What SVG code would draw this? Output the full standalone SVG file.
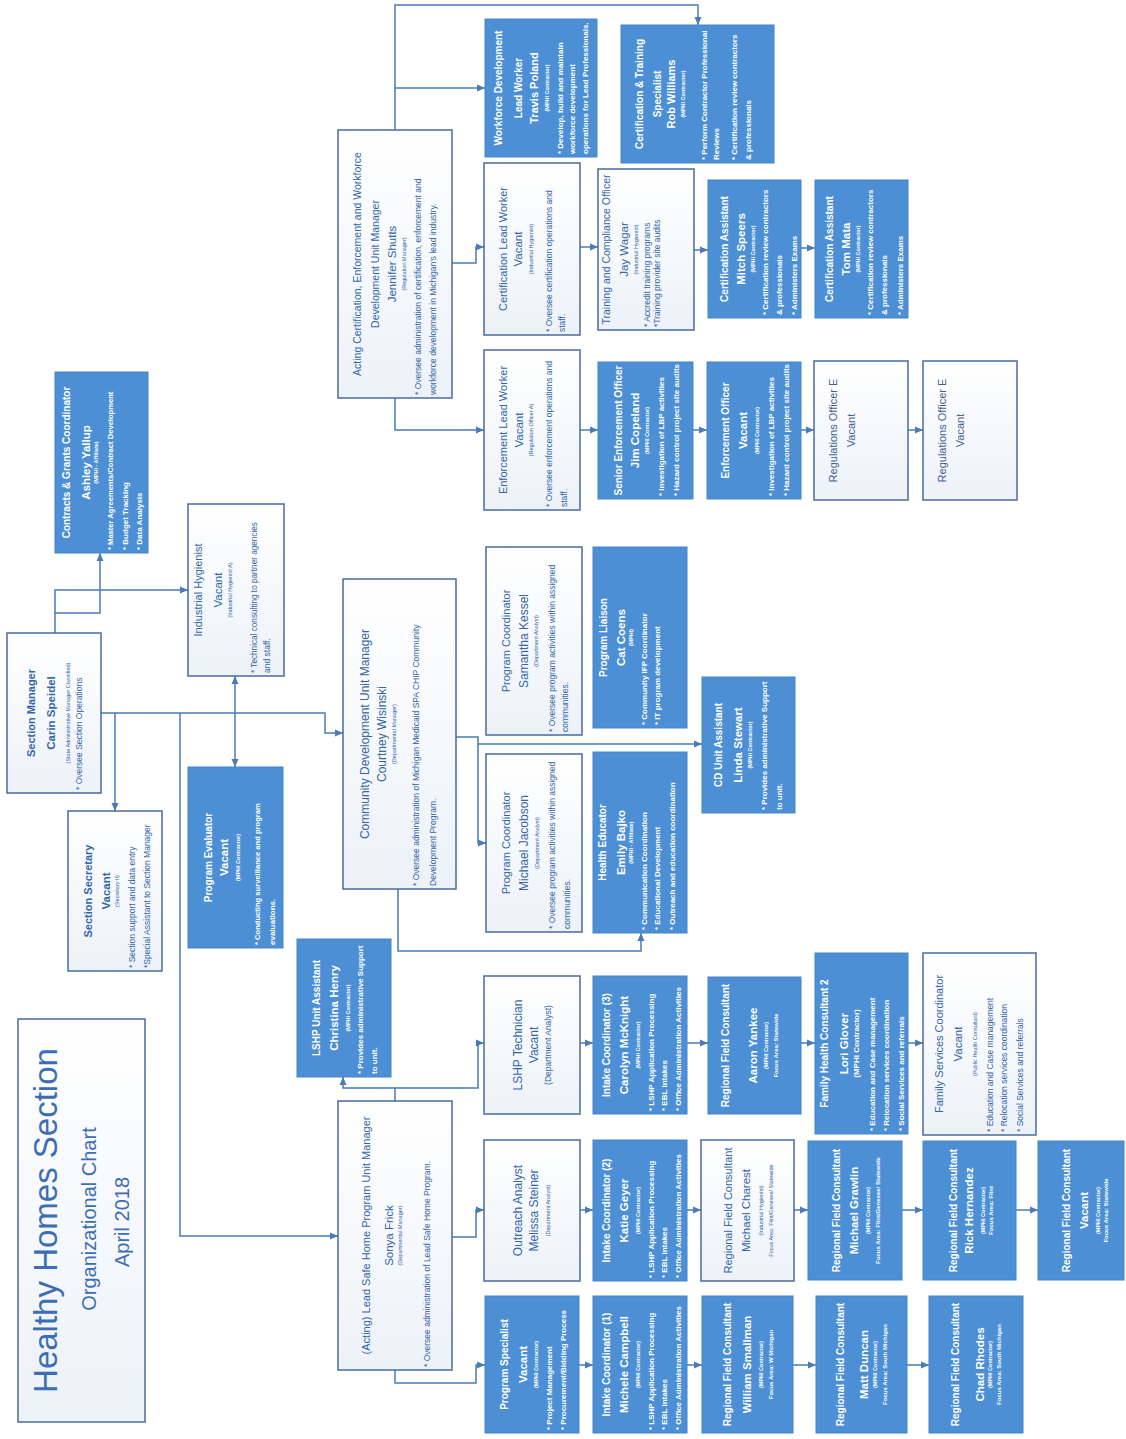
<svg xmlns="http://www.w3.org/2000/svg" width="1126" height="1439" viewBox="0 0 1126 1439">
<defs>
<linearGradient id="wg" x1="0" y1="0" x2="0" y2="1"><stop offset="0" stop-color="#ffffff"/><stop offset="1" stop-color="#edf2f9"/></linearGradient>
<marker id="ah" markerUnits="userSpaceOnUse" markerWidth="8" markerHeight="8" refX="8" refY="4" orient="auto"><path d="M0,0.5 L8,4 L0,7.5 z" fill="#4a7bb7"/></marker>
</defs>
<style>
text{font-family:"Liberation Sans",Arial,sans-serif}
.wb{fill:url(#wg);stroke:#4a6b9c;stroke-width:1.5}
.bb{fill:#4c8fd5;stroke:#4585cc;stroke-width:1}
.wt{font-size:11px;fill:#3366a8;text-anchor:middle}
.wn{font-size:11.5px;fill:#3366a8;text-anchor:middle}
.wc{font-size:5.5px;fill:#3366a8;text-anchor:middle}
.wl{font-size:8.5px;fill:#3366a8}
.bt{font-size:10px;font-weight:700;fill:#fff;text-anchor:middle}
.bn{font-size:11.5px;font-weight:700;fill:#fff;text-anchor:middle}
.bc{font-size:5.5px;font-weight:700;fill:#fff;text-anchor:middle}
.bl{font-size:8px;font-weight:700;fill:#fff}
.bf{font-size:6px;font-weight:700;fill:#fff;text-anchor:middle}
.rt{font-size:11px;fill:#44618e;text-anchor:middle}
.tt{font-size:33px;fill:#3d6db4;text-anchor:middle}
.ts{font-size:20px;fill:#3d6db4;text-anchor:middle}
.conn path{fill:none;stroke:#4a7bb7;stroke-width:1.5}
.conn path.a{marker-end:url(#ah)}
</style>
<rect width="1126" height="1439" fill="#ffffff"/>

<g id="connectors" class="conn">
<path class="a" d="M395,130 V5 H698 V25"/>
<path class="a" d="M395,88 H485"/>
<path class="a" d="M452,263 H476 V247 H484"/>
<path class="a" d="M580,247 H598"/>
<path class="a" d="M694,250 H708"/>
<path class="a" d="M801,248 H815"/>
<path class="a" d="M395,398 V430 H484"/>
<path class="a" d="M580,430 H598"/>
<path class="a" d="M693,430 H707"/>
<path class="a" d="M801,430 H814"/>
<path class="a" d="M908,430 H923"/>
<path class="a" d="M55,633 V590 H188"/>
<path class="a" d="M55,613 H100 V553"/>
<path class="a" d="M101,713 H325 V733 H343"/>
<path class="a" d="M115,713 V811"/>
<path class="a" d="M180,713 V1236 H338"/>
<path class="a" d="M235,713 V676"/>
<path class="a" d="M235,713 V767"/>
<path class="a" d="M456,737 H478 V843 H486"/>
<path class="a" d="M478,744 H702"/>
<path class="a" d="M398,889 V951 H641 V933"/>
<path class="a" d="M395,1101 V1088 H478 V1043 H484"/>
<path class="a" d="M395,1088 H343 V1077"/>
<path class="a" d="M580,1043 H593"/>
<path class="a" d="M687,1043 H708"/>
<path class="a" d="M801,1043 H815"/>
<path class="a" d="M908,1043 H923"/>
<path class="a" d="M452,1237 H476 V1210 H484"/>
<path class="a" d="M580,1210 H593"/>
<path class="a" d="M687,1210 H701"/>
<path class="a" d="M794,1210 H808"/>
<path class="a" d="M902,1210 H923"/>
<path class="a" d="M1016,1210 H1038"/>
<path class="a" d="M395,1370 V1383 H476 V1365 H485"/>
<path class="a" d="M579,1365 H593"/>
<path class="a" d="M687,1365 H702"/>
<path class="a" d="M793,1365 H816"/>
<path class="a" d="M907,1365 H929"/>
</g>

<g id="n-shutts"><rect class="wb" x="338" y="130" width="114" height="268"/>
<g transform="translate(338,398) rotate(-90)">
<text class="wt" x="134" y="23" style="font-size:10.5px">Acting Certification, Enforcement and Workforce</text>
<text class="wt" x="134" y="41" style="font-size:10.5px">Development Unit Manager</text>
<text class="wn" x="134" y="58">Jennifer Shutts</text>
<text class="wc" x="134" y="68">(Regulation Manager)</text>
<text class="wl" x="3" y="83">* Oversee administration of certification, enforcement and</text>
<text class="wl" x="3" y="98">workforce development in Michigan's lead industry.</text>
</g></g>

<g id="n-poland"><rect class="bb" x="485" y="19" width="112" height="138"/>
<g transform="translate(485,157) rotate(-90)">
<text class="bt" x="69" y="17">Workforce Development</text>
<text class="bt" x="69" y="37">Lead Worker</text>
<text class="bn" x="69" y="53" style="font-size:11px">Travis Poland</text>
<text class="bc" x="69" y="64">(MPHI Contractor)</text>
<text class="bl" x="3" y="78">* Develop, build and maintain</text>
<text class="bl" x="3" y="90">workforce development</text>
<text class="bl" x="3" y="103">operations for Lead Professionals.</text>
</g></g>

<g id="n-williams"><rect class="bb" x="621" y="25" width="153" height="138"/>
<g transform="translate(621,163) rotate(-90)">
<text class="bt" x="69" y="22">Certification &amp; Training</text>
<text class="bt" x="69" y="40">Specialist</text>
<text class="bn" x="69" y="54" style="font-size:11px">Rob Williams</text>
<text class="bc" x="69" y="64">(MPHI Contractor)</text>
<text class="bl" x="3" y="86">* Perform Contractor Professional</text>
<text class="bl" x="3" y="98">Reviews</text>
<text class="bl" x="3" y="116">* Certification review contractors</text>
<text class="bl" x="3" y="130">&amp; professionals</text>
</g></g>

<g id="n-certlead"><rect class="wb" x="484" y="163" width="96" height="172"/>
<g transform="translate(484,335) rotate(-90)">
<text class="wt" x="86" y="23">Certification Lead Worker</text>
<text class="wn" x="86" y="38">Vacant</text>
<text class="wc" x="86" y="49">(Industrial Hygienist)</text>
<text class="wl" x="3" y="68">* Oversee certification operations and</text>
<text class="wl" x="3" y="81">staff.</text>
</g></g>

<g id="n-wagar"><rect class="wb" x="598" y="169" width="96" height="161"/>
<g transform="translate(598,330) rotate(-90)">
<text class="wt" x="80.5" y="12" style="font-size:10.5px">Training and Compliance Officer</text>
<text class="wn" x="80.5" y="30">Jay Wagar</text>
<text class="wc" x="80.5" y="40">(Industrial Hygienist)</text>
<text class="wl" x="3" y="52">* Accredit training programs</text>
<text class="wl" x="3" y="62">*Training provider site audits</text>
</g></g>

<g id="n-speers"><rect class="bb" x="708" y="180" width="93" height="138"/>
<g transform="translate(708,318) rotate(-90)">
<text class="bt" x="69" y="20">Certification Assistant</text>
<text class="bn" x="69" y="37">Mitch Speers</text>
<text class="bc" x="69" y="47">(MPHI Contractor)</text>
<text class="bl" x="3" y="60">* Certification review contractors</text>
<text class="bl" x="3" y="74">&amp; professionals</text>
<text class="bl" x="3" y="89">* Administers Exams</text>
</g></g>

<g id="n-mata"><rect class="bb" x="815" y="180" width="93" height="138"/>
<g transform="translate(815,318) rotate(-90)">
<text class="bt" x="69" y="18">Certification Assistant</text>
<text class="bn" x="69" y="35">Tom Mata</text>
<text class="bc" x="69" y="45">(MPHI Contractor)</text>
<text class="bl" x="3" y="58">* Certification review contractors</text>
<text class="bl" x="3" y="72">&amp; professionals</text>
<text class="bl" x="3" y="88">* Administers Exams</text>
</g></g>

<g id="n-enflead"><rect class="wb" x="484" y="350" width="96" height="160"/>
<g transform="translate(484,510) rotate(-90)">
<text class="wt" x="80" y="23">Enforcement Lead Worker</text>
<text class="wn" x="80" y="39">Vacant</text>
<text class="wc" x="80" y="49">(Regulation Officer A)</text>
<text class="wl" x="3" y="68">* Oversee enforcement operations and</text>
<text class="wl" x="3" y="83">staff.</text>
</g></g>

<g id="n-copeland"><rect class="bb" x="598" y="362" width="95" height="137"/>
<g transform="translate(598,499) rotate(-90)">
<text class="bt" x="68.5" y="24">Senior Enforcement Officer</text>
<text class="bn" x="68.5" y="41">Jim Copeland</text>
<text class="bc" x="68.5" y="51">(MPHI Contractor)</text>
<text class="bl" x="3" y="66">* Investigation of LBP activities</text>
<text class="bl" x="3" y="81">* Hazard control project site audits</text>
</g></g>

<g id="n-enfofficer"><rect class="bb" x="707" y="362" width="94" height="137"/>
<g transform="translate(707,499) rotate(-90)">
<text class="bt" x="68.5" y="22">Enforcement Officer</text>
<text class="bn" x="68.5" y="40">Vacant</text>
<text class="bc" x="68.5" y="52">(MPHI Contractor)</text>
<text class="bl" x="3" y="67">* Investigation of LBP activities</text>
<text class="bl" x="3" y="82">* Hazard control project site audits</text>
</g></g>

<g id="n-reg1"><rect class="wb" x="814" y="361" width="94" height="139"/>
<g transform="translate(814,500) rotate(-90)">
<text class="rt" x="69.5" y="23">Regulations Officer E</text>
<text class="rt" x="69.5" y="41">Vacant</text>
</g></g>

<g id="n-reg2"><rect class="wb" x="923" y="361" width="94" height="139"/>
<g transform="translate(923,500) rotate(-90)">
<text class="rt" x="69.5" y="23">Regulations Officer E</text>
<text class="rt" x="69.5" y="41">Vacant</text>
</g></g>

<g id="n-yallup"><rect class="bb" x="55" y="372" width="93" height="181"/>
<g transform="translate(55,553) rotate(-90)">
<text class="bt" x="90.5" y="15">Contracts &amp; Grants Coordinator</text>
<text class="bn" x="90.5" y="35">Ashley Yallup</text>
<text class="bc" x="90.5" y="43">(MPHI - Affiliate)</text>
<text class="bl" x="3" y="58" style="font-size:7.6px">* Master Agreements/Contract Development</text>
<text class="bl" x="3" y="73">* Budget Tracking</text>
<text class="bl" x="3" y="87">* Data Analysis</text>
</g></g>

<g id="n-hygienist"><rect class="wb" x="188" y="504" width="96" height="172"/>
<g transform="translate(188,676) rotate(-90)">
<text class="wt" x="86" y="14">Industrial Hygienist</text>
<text class="wn" x="86" y="34">Vacant</text>
<text class="wc" x="86" y="44">(Industrial Hygienist A)</text>
<text class="wl" x="3" y="69" style="font-size:8.2px">* Technical consulting to partner agencies</text>
<text class="wl" x="3" y="82">and staff.</text>
</g></g>

<g id="n-speidel"><rect class="wb" x="7" y="633" width="94" height="160"/>
<g transform="translate(7,793) rotate(-90)">
<text class="wt" x="80" y="28" style="font-weight:700">Section Manager</text>
<text class="wn" x="80" y="48" style="font-weight:700">Carin Speidel</text>
<text class="wc" x="80" y="63">(State Administrative Manager Classified)</text>
<text class="wl" x="3" y="75">* Oversee Section Operations</text>
</g></g>

<g id="n-secretary"><rect class="wb" x="68" y="811" width="94" height="160"/>
<g transform="translate(68,971) rotate(-90)">
<text class="wt" x="80" y="24" style="font-weight:700">Section Secretary</text>
<text class="wn" x="80" y="42" style="font-weight:700">Vacant</text>
<text class="wc" x="80" y="51">(Secretary II)</text>
<text class="wl" x="3" y="67">* Section support and data entry</text>
<text class="wl" x="3" y="82">*Special Assistant to Section Manager</text>
</g></g>

<g id="n-evaluator"><rect class="bb" x="188" y="767" width="95" height="181"/>
<g transform="translate(188,948) rotate(-90)">
<text class="bt" x="90.5" y="24">Program Evaluator</text>
<text class="bn" x="90.5" y="40">Vacant</text>
<text class="bc" x="90.5" y="52">(MPHI Contractor)</text>
<text class="bl" x="3" y="72" style="font-size:7.6px">* Conducting surveillance and program</text>
<text class="bl" x="3" y="87">evaluations.</text>
</g></g>

<g id="n-title"><rect class="wb" x="18" y="1019" width="127" height="403"/>
<g transform="translate(18,1422) rotate(-90)">
<text class="tt" x="201.5" y="39">Healthy Homes Section</text>
<text class="ts" x="203" y="78">Organizational Chart</text>
<text class="ts" x="200" y="111">April 2018</text>
</g></g>

<g id="n-henry"><rect class="bb" x="297" y="939" width="94" height="138"/>
<g transform="translate(297,1077) rotate(-90)">
<text class="bt" x="69" y="23">LSHP Unit  Assistant</text>
<text class="bn" x="69" y="41">Christina Henry</text>
<text class="bc" x="69" y="53">(MPHI Contractor)</text>
<text class="bl" x="3" y="66">* Provides administrative Support</text>
<text class="bl" x="3" y="80">to unit.</text>
</g></g>

<g id="n-wisinski"><rect class="wb" x="343" y="579" width="113" height="310"/>
<g transform="translate(343,889) rotate(-90)">
<text class="wt" x="155" y="26" style="font-size:12px">Community Development  Unit Manager</text>
<text class="wn" x="155" y="43" style="font-size:12px">Courtney Wisinski</text>
<text class="wc" x="155" y="53">(Departmental Manager)</text>
<text class="wl" x="3" y="76">* Oversee administration of Michigan Medicaid SPA CHIP Community</text>
<text class="wl" x="3" y="93">Development Program.</text>
</g></g>

<g id="n-kessel"><rect class="wb" x="486" y="547" width="96" height="188"/>
<g transform="translate(486,735) rotate(-90)">
<text class="wt" x="94" y="24">Program Coordinator</text>
<text class="wn" x="94" y="42" style="font-size:12px">Samantha Kessel</text>
<text class="wc" x="94" y="52">(Department Analyst)</text>
<text class="wl" x="3" y="69">* Oversee program activities within assigned</text>
<text class="wl" x="3" y="82">communities.</text>
</g></g>

<g id="n-coens"><rect class="bb" x="593" y="547" width="94" height="181"/>
<g transform="translate(593,728) rotate(-90)">
<text class="bt" x="90.5" y="14">Program Liaison</text>
<text class="bn" x="90.5" y="32">Cat Coens</text>
<text class="bc" x="90.5" y="40">(MPHI)</text>
<text class="bl" x="3" y="54">* Community IFP Coordinator</text>
<text class="bl" x="3" y="67">* IT program development</text>
</g></g>

<g id="n-stewart"><rect class="bb" x="702" y="677" width="93" height="136"/>
<g transform="translate(702,813) rotate(-90)">
<text class="bt" x="68" y="20">CD Unit Assistant</text>
<text class="bn" x="68" y="40">Linda Stewart</text>
<text class="bc" x="68" y="50">(MPHI Contractor)</text>
<text class="bl" x="3" y="65">* Provides administrative Support</text>
<text class="bl" x="3" y="80">to unit.</text>
</g></g>

<g id="n-jacobson"><rect class="wb" x="486" y="754" width="96" height="178"/>
<g transform="translate(486,932) rotate(-90)">
<text class="wt" x="89" y="24">Program Coordinator</text>
<text class="wn" x="89" y="42" style="font-size:12px">Michael Jacobson</text>
<text class="wc" x="89" y="53">(Department Analyst)</text>
<text class="wl" x="3" y="69">* Oversee program activities within assigned</text>
<text class="wl" x="3" y="84">communities.</text>
</g></g>

<g id="n-bajko"><rect class="bb" x="593" y="752" width="94" height="181"/>
<g transform="translate(593,933) rotate(-90)">
<text class="bt" x="90.5" y="13">Health Educator</text>
<text class="bn" x="90.5" y="32">Emily Bajko</text>
<text class="bc" x="90.5" y="40">(MPHI - Affiliate)</text>
<text class="bl" x="3" y="54">* Communication Coordination</text>
<text class="bl" x="3" y="67">* Educational Development</text>
<text class="bl" x="3" y="82">* Outreach and education coordination</text>
</g></g>

<g id="n-frick"><rect class="wb" x="338" y="1101" width="114" height="269"/>
<g transform="translate(338,1370) rotate(-90)">
<text class="wt" x="134.5" y="32">(Acting) Lead Safe Home Program Unit Manager</text>
<text class="wn" x="134.5" y="55">Sonya Frick</text>
<text class="wc" x="134.5" y="64">(Departmental Manager)</text>
<text class="wl" x="3" y="92">* Oversee administration of Lead Safe Home Program.</text>
</g></g>

<g id="n-lshptech"><rect class="wb" x="484" y="976" width="96" height="138"/>
<g transform="translate(484,1114) rotate(-90)">
<text class="wt" x="69" y="38" style="font-size:12px">LSHP Technician</text>
<text class="wn" x="69" y="54" style="font-size:12px">Vacant</text>
<text class="wl" x="69" y="67" style="text-anchor:middle">(Department Analyst)</text>
</g></g>

<g id="n-mcknight"><rect class="bb" x="593" y="976" width="94" height="138"/>
<g transform="translate(593,1114) rotate(-90)">
<text class="bt" x="69" y="17">Intake Coordinator (3)</text>
<text class="bn" x="69" y="35">Carolyn McKnight</text>
<text class="bc" x="69" y="47">(MPHI Contractor)</text>
<text class="bl" x="3" y="61">* LSHP Application Processing</text>
<text class="bl" x="3" y="74">* EBL Intakes</text>
<text class="bl" x="3" y="88">* Office Administration Activities</text>
</g></g>

<g id="n-yankee"><rect class="bb" x="708" y="977" width="93" height="137"/>
<g transform="translate(708,1114) rotate(-90)">
<text class="bt" x="68.5" y="21">Regional Field Consultant</text>
<text class="bn" x="68.5" y="49">Aaron Yankee</text>
<text class="bc" x="68.5" y="60">(MPHI Contractor)</text>
<text class="bf" x="68.5" y="70">Focus Area: Statewide</text>
</g></g>

<g id="n-glover"><rect class="bb" x="815" y="953" width="93" height="181"/>
<g transform="translate(815,1134) rotate(-90)">
<text class="bt" x="90.5" y="13">Family Health Consultant 2</text>
<text class="bn" x="90.5" y="33">Lori Glover</text>
<text class="bc" x="90.5" y="44" style="font-size:8px">(MPHI Contractor)</text>
<text class="bl" x="3" y="60">* Education and Case management</text>
<text class="bl" x="3" y="74">* Relocation services coordination</text>
<text class="bl" x="3" y="89">* Social Services and referrals</text>
</g></g>

<g id="n-fsc"><rect class="wb" x="923" y="953" width="113" height="182"/>
<g transform="translate(923,1135) rotate(-90)">
<text class="wt" x="91" y="20">Family Services Coordinator</text>
<text class="wn" x="91" y="39">Vacant</text>
<text class="wc" x="91" y="54">(Public Health Consultant)</text>
<text class="wl" x="3" y="70">* Education and Case management</text>
<text class="wl" x="3" y="84">* Relocation services coordination</text>
<text class="wl" x="3" y="100">* Social Services and referrals</text>
</g></g>

<g id="n-steiner"><rect class="wb" x="484" y="1140" width="96" height="141"/>
<g transform="translate(484,1281) rotate(-90)">
<text class="wt" x="70.5" y="38" style="font-size:12px">Outreach Analyst</text>
<text class="wn" x="70.5" y="54" style="font-size:12px">Melissa Steiner</text>
<text class="wc" x="70.5" y="66">(Department Analyst)</text>
</g></g>

<g id="n-geyer"><rect class="bb" x="593" y="1140" width="94" height="141"/>
<g transform="translate(593,1281) rotate(-90)">
<text class="bt" x="70.5" y="17">Intake Coordinator (2)</text>
<text class="bn" x="70.5" y="35">Katie Geyer</text>
<text class="bc" x="70.5" y="47">(MPHI Contractor)</text>
<text class="bl" x="3" y="61">* LSHP Application Processing</text>
<text class="bl" x="3" y="74">* EBL Intakes</text>
<text class="bl" x="3" y="88">* Office Administration Activities</text>
</g></g>

<g id="n-charest"><rect class="wb" x="701" y="1140" width="93" height="141"/>
<g transform="translate(701,1281) rotate(-90)">
<text class="wt" x="70.5" y="31">Regional Field Consultant</text>
<text class="wn" x="70.5" y="49">Michael Charest</text>
<text class="wc" x="70.5" y="62">(Industrial Hygienist)</text>
<text class="wc" x="70.5" y="72">Focus Area: Flint/Genesee/ Statewide</text>
</g></g>

<g id="n-grawlin"><rect class="bb" x="808" y="1141" width="94" height="139"/>
<g transform="translate(808,1280) rotate(-90)">
<text class="bt" x="69.5" y="32">Regional Field Consultant</text>
<text class="bn" x="69.5" y="50">Michael Grawlin</text>
<text class="bc" x="69.5" y="62">(MPHI Contractor)</text>
<text class="bf" x="69.5" y="72">Focus Area: Flint/Genesee/ Statewide</text>
</g></g>

<g id="n-hernandez"><rect class="bb" x="923" y="1141" width="93" height="139"/>
<g transform="translate(923,1280) rotate(-90)">
<text class="bt" x="69.5" y="34">Regional Field Consultant</text>
<text class="bn" x="69.5" y="50">Rick Hernandez</text>
<text class="bc" x="69.5" y="62">(MPHI Contractor)</text>
<text class="bf" x="69.5" y="70">Focus Area: Flint</text>
</g></g>

<g id="n-rfcvacant"><rect class="bb" x="1038" y="1141" width="86" height="139"/>
<g transform="translate(1038,1280) rotate(-90)">
<text class="bt" x="69.5" y="32">Regional Field Consultant</text>
<text class="bn" x="69.5" y="50">Vacant</text>
<text class="bc" x="69.5" y="62">(MPHI Contractor)</text>
<text class="bf" x="69.5" y="70">Focus Area: Statewide</text>
</g></g>

<g id="n-progspec"><rect class="bb" x="485" y="1296" width="94" height="137"/>
<g transform="translate(485,1433) rotate(-90)">
<text class="bt" x="68.5" y="23">Program Specialist</text>
<text class="bn" x="68.5" y="42">Vacant</text>
<text class="bc" x="68.5" y="53">(MPHI Contractor)</text>
<text class="bl" x="3" y="67">* Project Management</text>
<text class="bl" x="3" y="81">* Procurement/Bidding Process</text>
</g></g>

<g id="n-campbell"><rect class="bb" x="593" y="1296" width="94" height="137"/>
<g transform="translate(593,1433) rotate(-90)">
<text class="bt" x="68.5" y="17">Intake Coordinator (1)</text>
<text class="bn" x="68.5" y="35">Michele Campbell</text>
<text class="bc" x="68.5" y="47">(MPHI Contractor)</text>
<text class="bl" x="3" y="61">* LSHP Application Processing</text>
<text class="bl" x="3" y="74">* EBL Intakes</text>
<text class="bl" x="3" y="88">* Office Administration Activities</text>
</g></g>

<g id="n-smallman"><rect class="bb" x="702" y="1296" width="91" height="137"/>
<g transform="translate(702,1433) rotate(-90)">
<text class="bt" x="68.5" y="29">Regional Field Consultant</text>
<text class="bn" x="68.5" y="49">William Smallman</text>
<text class="bc" x="68.5" y="61">(MPHI Contractor)</text>
<text class="bf" x="68.5" y="71">Focus Area: W Michigan</text>
</g></g>

<g id="n-duncan"><rect class="bb" x="816" y="1296" width="91" height="137"/>
<g transform="translate(816,1433) rotate(-90)">
<text class="bt" x="68.5" y="28">Regional Field Consultant</text>
<text class="bn" x="68.5" y="52">Matt Duncan</text>
<text class="bc" x="68.5" y="61">(MPHI Contractor)</text>
<text class="bf" x="68.5" y="71">Focus Area: South Michigan</text>
</g></g>

<g id="n-rhodes"><rect class="bb" x="929" y="1296" width="94" height="137"/>
<g transform="translate(929,1433) rotate(-90)">
<text class="bt" x="68.5" y="30">Regional Field Consultant</text>
<text class="bn" x="68.5" y="55">Chad Rhodes</text>
<text class="bc" x="68.5" y="63">(MPHI Contractor)</text>
<text class="bf" x="68.5" y="72">Focus Area: South Michigan</text>
</g></g>
</svg>
